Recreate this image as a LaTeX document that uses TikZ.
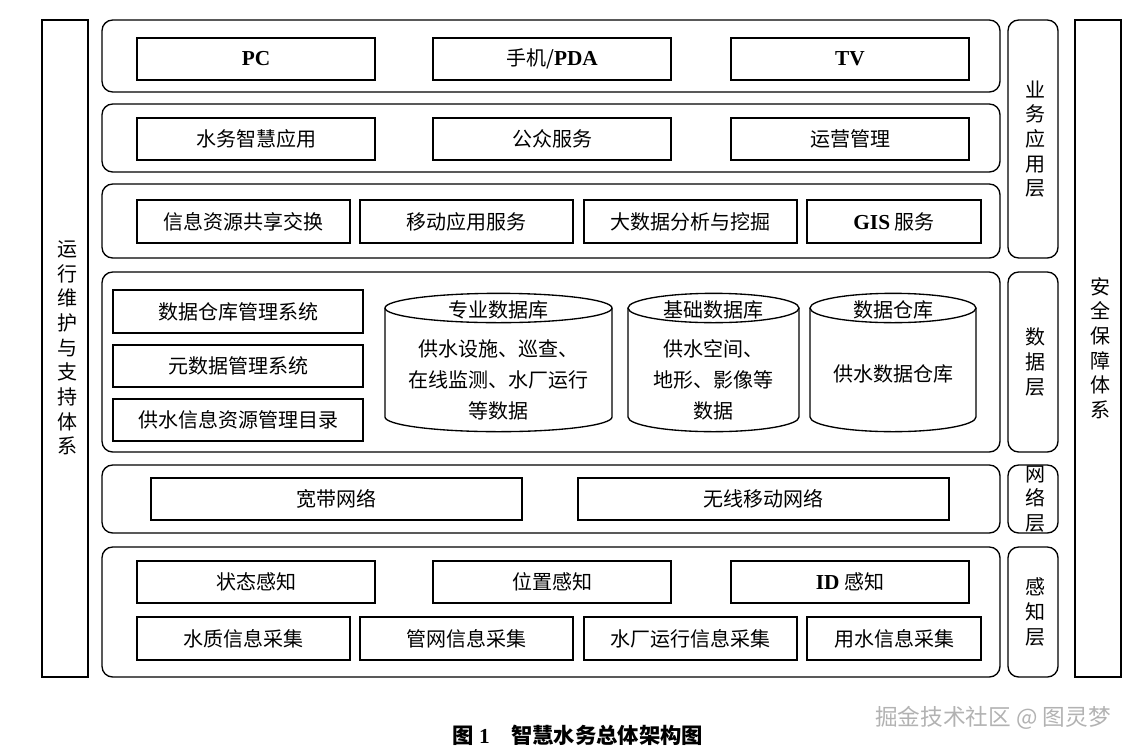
\documentclass[tikz,border=0pt]{standalone}
\usepackage{fontspec}
\setmainfont{Liberation Serif}
\newfontfamily\cjk{Noto Sans CJK SC}
\begin{document}
\begin{tikzpicture}[x=0.75pt,y=-0.75pt,
  every node/.style={font=\cjk\fontsize{15}{18}\selectfont,inner sep=0pt},
  vt/.style={align=center,text width=1.2em,font=\cjk\fontsize{15}{18.5}\selectfont},
  bx/.style={draw,line width=1pt},
  rw/.style={draw,line width=1pt,rounded corners=8pt}]
\useasboundingbox (0,0) rectangle (1146,754);
\newcommand\bxn[6]{\draw[bx] (#2,#4) rectangle (#3,#5); \node (#1) at ({(#2+#3)/2},{(#4+#5)/2}) {#6};}
\newcommand\lat[1]{{\rmfamily\bfseries\fontsize{16}{18}\selectfont #1}}
\newcommand\mycyl[6]{%
  \pgfmathsetmacro\rx{(#3-#2)/2*0.75}
  \draw[line width=1pt] ({(#2+#3)/2},#4+15) ellipse[x radius=\rx pt,y radius=11pt];
  \draw[line width=1pt] (#2,#4+15) -- (#2,#5-15) arc[start angle=180,end angle=360,x radius=\rx pt,y radius=11pt] -- (#3,#4+15);
  \node (#1) at ({(#2+#3)/2},#4+17) {#6};}
% side columns
\draw[bx] (42,20) rectangle (88,677);
\node[vt] (ops) at (65,348) {运\\行\\维\\护\\与\\支\\持\\体\\系};
\draw[bx] (1075,20) rectangle (1121,677);
\node[vt] (sec) at (1098,348) {安\\全\\保\\障\\体\\系};
\draw[rw] (1008,20) rectangle (1058,258);
\node[vt] (l1) at (1033,139) {业\\务\\应\\用\\层};
\draw[rw] (1008,272) rectangle (1058,452);
\node[vt] (l2) at (1033,362) {数\\据\\层};
\draw[rw] (1008,465) rectangle (1058,533);
\node[vt] (l3) at (1033,499) {网\\络\\层};
\draw[rw] (1008,547) rectangle (1058,677);
\node[vt] (l4) at (1033,612) {感\\知\\层};
% rows
\draw[rw] (102,20) rectangle (1000,92);
\draw[rw] (102,104) rectangle (1000,172);
\draw[rw] (102,184) rectangle (1000,258);
\draw[rw] (102,272) rectangle (1000,452);
\draw[rw] (102,465) rectangle (1000,533);
\draw[rw] (102,547) rectangle (1000,677);
% row1
\bxn{pc}{137}{375}{38}{80}{\lat{PC}}
\bxn{pda}{433}{671}{38}{80}{手机/\lat{PDA}}
\bxn{tv}{731}{969}{38}{80}{\lat{TV}}
% row2
\bxn{a1}{137}{375}{118}{160}{水务智慧应用}
\bxn{a2}{433}{671}{118}{160}{公众服务}
\bxn{a3}{731}{969}{118}{160}{运营管理}
% row3
\bxn{b1}{137}{350}{200}{243}{信息资源共享交换}
\bxn{b2}{360}{573}{200}{243}{移动应用服务}
\bxn{b3}{584}{797}{200}{243}{大数据分析与挖掘}
\bxn{b4}{807}{981}{200}{243}{\lat{GIS} 服务}
% row4
\bxn{c1}{113}{363}{290}{333}{数据仓库管理系统}
\bxn{c2}{113}{363}{345}{387}{元数据管理系统}
\bxn{c3}{113}{363}{399}{441}{供水信息资源管理目录}
\mycyl{d1}{385}{612}{293}{432}{专业数据库}
\node[align=center] (d1t) at (498.5,380) {供水设施、巡查、\\[5pt]在线监测、水厂运行\\[5pt]等数据};
\mycyl{d2}{628}{799}{293}{432}{基础数据库}
\node[align=center] (d2t) at (713.5,380) {供水空间、\\[5pt]地形、影像等\\[5pt]数据};
\mycyl{d3}{810}{976}{293}{432}{数据仓库}
\node (d3t) at (893,374) {供水数据仓库};
% row5
\bxn{n1}{151}{522}{478}{520}{宽带网络}
\bxn{n2}{578}{949}{478}{520}{无线移动网络}
% row6
\bxn{s1}{137}{375}{561}{603}{状态感知}
\bxn{s2}{433}{671}{561}{603}{位置感知}
\bxn{s3}{731}{969}{561}{603}{\lat{ID} 感知}
\bxn{e1}{137}{350}{617}{660}{水质信息采集}
\bxn{e2}{360}{573}{617}{660}{管网信息采集}
\bxn{e3}{584}{797}{617}{660}{水厂运行信息采集}
\bxn{e4}{807}{981}{617}{660}{用水信息采集}
% caption
\node[font=\cjk\bfseries\fontsize{16}{18}\selectfont] (cap) at (578,735) {图 {\rmfamily\bfseries 1}\quad 智慧水务总体架构图};
\node[text=gray!60,font=\cjk\fontsize{17}{19}\selectfont] (wm) at (993,718) {掘金技术社区 @ 图灵梦};
\end{tikzpicture}
\end{document}
